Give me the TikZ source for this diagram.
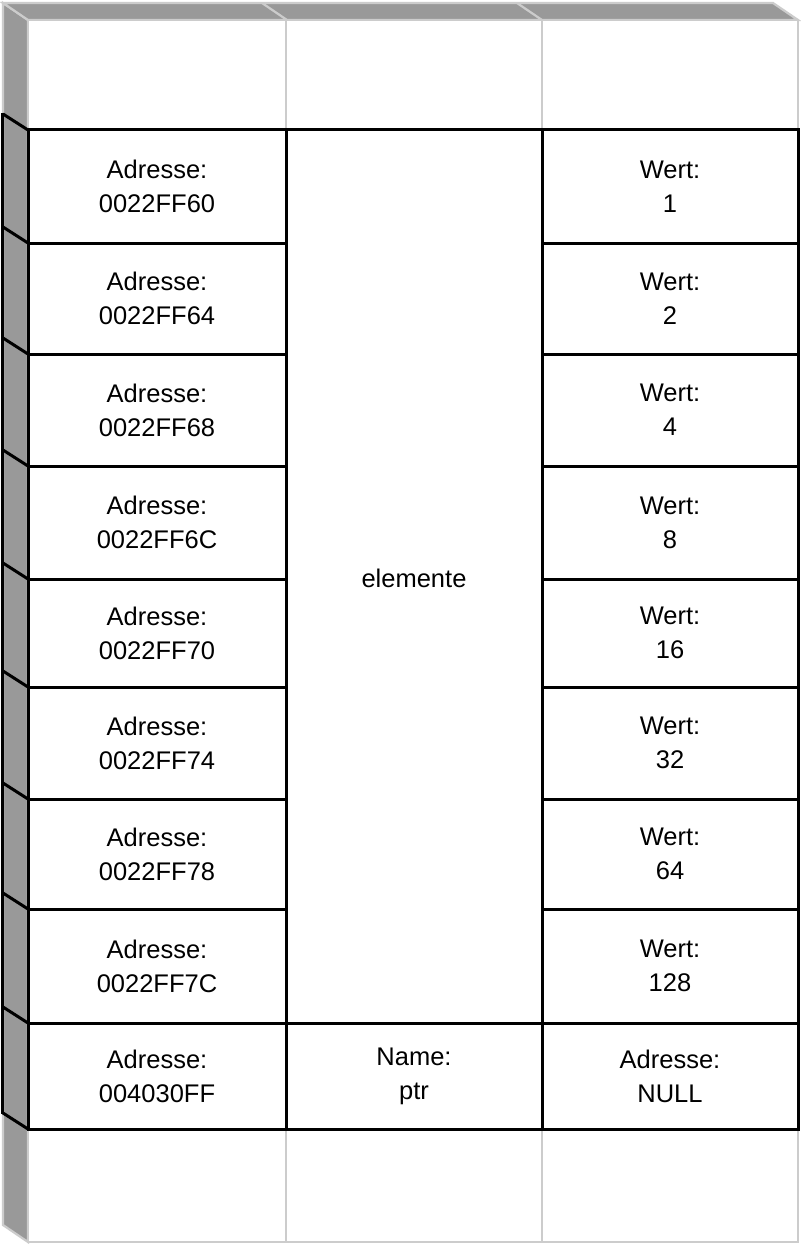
\documentclass[tikz,border=0pt]{standalone}
\usepackage{fontspec}
\setmainfont{Liberation Sans}
\definecolor{sidegray}{HTML}{999999}
\definecolor{linegray}{HTML}{CCCCCC}
\begin{document}
\begin{tikzpicture}[x=1pt,y=-1pt,
  ghost/.style={draw=linegray,line width=2.2pt,fill=white},
  face/.style={draw=linegray,line width=2.2pt,fill=sidegray},
  cell/.style={draw=black,line width=3pt},
  blk/.style={draw=black,line width=3pt},
  lbl/.style={font=\fontsize{25.5}{34}\selectfont,align=center,inner sep=0pt}]
\useasboundingbox (0,0) rectangle (800,1244);
\fill[white] (0,0) rectangle (800,1244);
% side and top faces
\path[face] (3,3) -- (28,20) -- (28,1242) -- (3,1225) -- cycle;
\path[face] (3,3) -- (773,3) -- (798,20) -- (28,20) -- cycle;
\draw[linegray,line width=2.2pt] (262,3) -- (287,20) (517,3) -- (542,20);
% ghost rows
\foreach \xa/\xb in {28/286,286/542,542/798}{
  \path[ghost] (\xa,20) rectangle (\xb,130);
  \path[ghost] (\xa,1129) rectangle (\xb,1242);
}
% rows
\foreach \ya/\yb in {130/243,243/354,354/466,466/579,579/687,687/799,799/909,909/1023,1023/1129}{
  \path[cell,fill=white] (28,\ya) rectangle (286,\yb);
  \path[cell,fill=white] (542,\ya) rectangle (798,\yb);
  \draw[blk] (3,\ya-16) -- (28,\ya);
}
\draw[blk] (3,1129-16) -- (28,1129);
\draw[blk] (2,113) -- (2,1114);
\path[cell,fill=white] (286,130) rectangle (542,1023);
\path[cell,fill=white] (286,1023) rectangle (542,1129);
% labels
\node[lbl] (a1) at (157,186.5) {Adresse:\\0022FF60};
\node[lbl] (a2) at (157,298.5) {Adresse:\\0022FF64};
\node[lbl] (a3) at (157,410) {Adresse:\\0022FF68};
\node[lbl] (a4) at (157,522.5) {Adresse:\\0022FF6C};
\node[lbl] (a5) at (157,633) {Adresse:\\0022FF70};
\node[lbl] (a6) at (157,743) {Adresse:\\0022FF74};
\node[lbl] (a7) at (157,854) {Adresse:\\0022FF78};
\node[lbl] (a8) at (157,966) {Adresse:\\0022FF7C};
\node[lbl] (a9) at (157,1076) {Adresse:\\004030FF};
\node[lbl] (w1) at (670,186.5) {Wert:\\1};
\node[lbl] (w2) at (670,298.5) {Wert:\\2};
\node[lbl] (w3) at (670,410) {Wert:\\4};
\node[lbl] (w4) at (670,522.5) {Wert:\\8};
\node[lbl] (w5) at (670,633) {Wert:\\16};
\node[lbl] (w6) at (670,743) {Wert:\\32};
\node[lbl] (w7) at (670,854) {Wert:\\64};
\node[lbl] (w8) at (670,966) {Wert:\\128};
\node[lbl] (w9) at (670,1076) {Adresse:\\NULL};
\node[lbl] (el) at (414,578) {elemente};
\node[lbl] (nm) at (414,1076) {Name:\\ptr};
\end{tikzpicture}
\end{document}
